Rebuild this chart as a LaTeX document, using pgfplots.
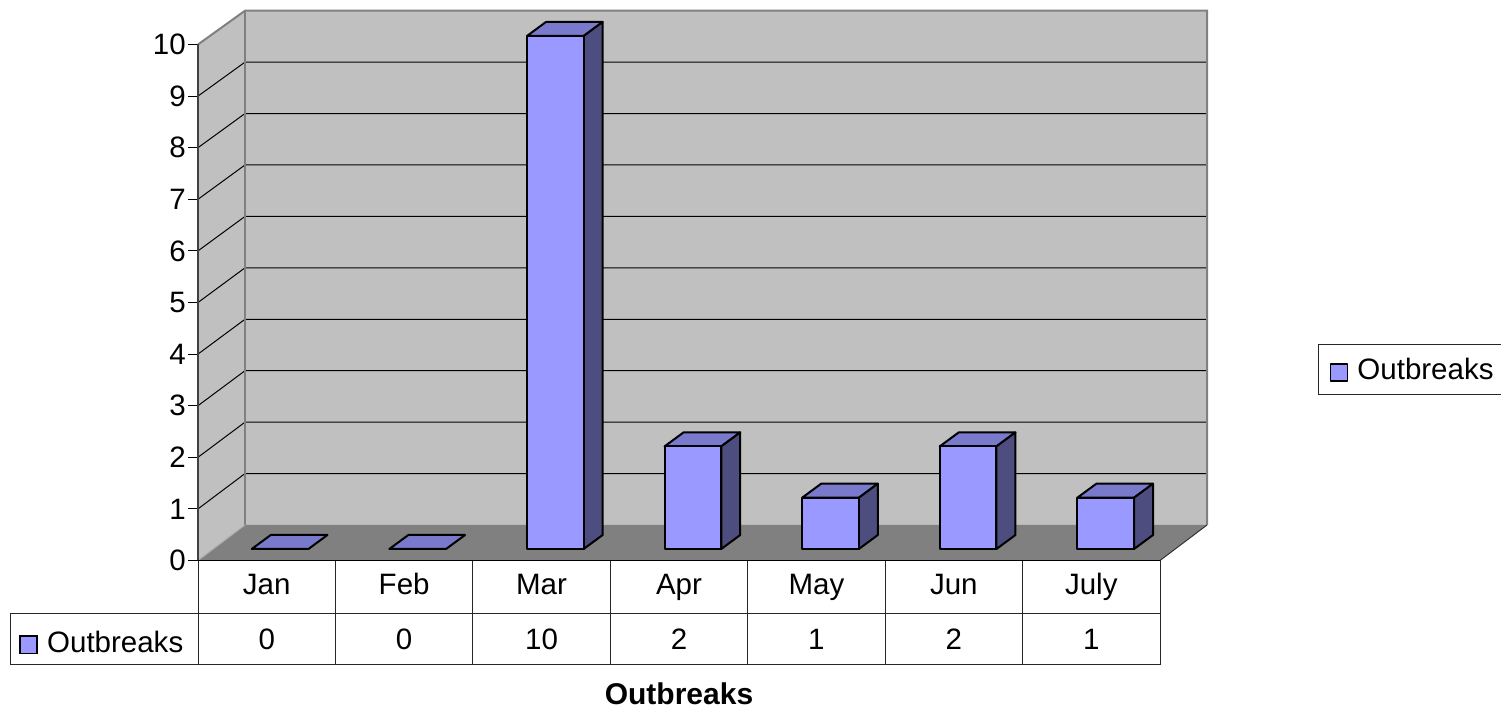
\documentclass[border=0pt]{standalone}
\usepackage{fontspec}
\setmainfont{Liberation Sans}
\usepackage{pgfplots}
\pgfplotsset{compat=1.18}
\definecolor{wall}{HTML}{C0C0C0}
\definecolor{floorc}{HTML}{808080}
\definecolor{barf}{HTML}{9999FF}
\definecolor{bart}{HTML}{7A7ACC}
\definecolor{bars}{HTML}{4D4D80}
\newcommand{\fs}{\fontsize{29.5}{31}\selectfont}
\begin{document}
\begin{tikzpicture}
\path[use as bounding box] (0,0) rectangle (1501pt,709pt);
% structure axis: walls, floor, ticks, data table
\begin{axis}[
  at={(198pt,148.5pt)}, anchor=south west,
  scale only axis, width=962pt, height=516pt,
  xmin=0, xmax=7, ymin=0, ymax=10, clip=false,
  axis line style={draw=none},
  xtick={0.5,1.5,2.5,3.5,4.5,5.5,6.5},
  xticklabels={Jan,Feb,Mar,Apr,May,Jun,July},
  ytick={0,1,2,3,4,5,6,7,8,9,10},
  xtick pos=bottom, ytick pos=left,
  tick align=outside, major tick length=10pt,
  x tick style={draw=none},
  y tick style={black,line width=1pt},
  /pgf/number format/assume math mode=true,
  tick label style={font=\fs},
  yticklabel style={inner sep=2pt},
  xticklabel style={anchor=base, yshift=-24.5pt},
]
\addplot[fill=wall,draw=none] coordinates {(0,0)(0.342,0.688)(0.342,10.655)(0,10)} --cycle;
\addplot[fill=wall,draw=none] coordinates {(0.342,0.688)(7.342,0.688)(7.342,10.655)(0.342,10.655)} --cycle;
\addplot[fill=floorc,draw=none] coordinates {(0,0)(7,0)(7.342,0.688)(0.342,0.688)} --cycle;
% grid lines
\addplot[black,line width=1pt] coordinates {(0,1)(0.342,1.685)(7.342,1.685)};
\addplot[black,line width=1pt] coordinates {(0,2)(0.342,2.681)(7.342,2.681)};
\addplot[black,line width=1pt] coordinates {(0,3)(0.342,3.678)(7.342,3.678)};
\addplot[black,line width=1pt] coordinates {(0,4)(0.342,4.675)(7.342,4.675)};
\addplot[black,line width=1pt] coordinates {(0,5)(0.342,5.672)(7.342,5.672)};
\addplot[black,line width=1pt] coordinates {(0,6)(0.342,6.668)(7.342,6.668)};
\addplot[black,line width=1pt] coordinates {(0,7)(0.342,7.665)(7.342,7.665)};
\addplot[black,line width=1pt] coordinates {(0,8)(0.342,8.662)(7.342,8.662)};
\addplot[black,line width=1pt] coordinates {(0,9)(0.342,9.658)(7.342,9.658)};
% wall edges
\addplot[floorc,line width=2pt] coordinates {(0,10)(0.342,10.655)(7.342,10.655)(7.342,0.688)};
\addplot[floorc,line width=2pt] coordinates {(0.342,10.655)(0.342,0.688)};
\addplot[wall!70!floorc,line width=1pt] coordinates {(0,0)(0.342,0.688)};
\addplot[black!75,line width=1.5pt] coordinates {(0,0)(0,10)};
\addplot[black!80,line width=1pt] coordinates {(7,0)(7.342,0.688)};
% data table lines
\addplot[black!85,line width=1pt] coordinates {(0,0)(7,0)(7,-2.012)(-1.362,-2.012)(-1.362,-1.031)(7,-1.031)};
\addplot[black!85,line width=1pt] coordinates {(0,0)(0,-2.012)};
\addplot[black!85,line width=1pt] coordinates {(1,0)(1,-2.012)};
\addplot[black!85,line width=1pt] coordinates {(2,0)(2,-2.012)};
\addplot[black!85,line width=1pt] coordinates {(3,0)(3,-2.012)};
\addplot[black!85,line width=1pt] coordinates {(4,0)(4,-2.012)};
\addplot[black!85,line width=1pt] coordinates {(5,0)(5,-2.012)};
\addplot[black!85,line width=1pt] coordinates {(6,0)(6,-2.012)};
\addplot[black,line width=1pt] coordinates {(0,0)(7,0)};
\addplot[fill=barf,draw=black,line width=1.5pt] coordinates {(-1.295,-1.463)(-1.171,-1.463)(-1.171,-1.799)(-1.295,-1.799)} --cycle;
\node[anchor=base west,inner sep=0pt,font=\fs] at (axis cs:-1.099,-1.783) {Outbreaks};
\node[anchor=base,inner sep=0pt,font=\fs] at (axis cs:0.5,-1.734) {0};
\node[anchor=base,inner sep=0pt,font=\fs] at (axis cs:1.5,-1.734) {0};
\node[anchor=base,inner sep=0pt,font=\fs] at (axis cs:2.5,-1.734) {10};
\node[anchor=base,inner sep=0pt,font=\fs] at (axis cs:3.5,-1.734) {2};
\node[anchor=base,inner sep=0pt,font=\fs] at (axis cs:4.5,-1.734) {1};
\node[anchor=base,inner sep=0pt,font=\fs] at (axis cs:5.5,-1.734) {2};
\node[anchor=base,inner sep=0pt,font=\fs] at (axis cs:6.5,-1.734) {1};
\node[anchor=base,inner sep=0pt,font=\fontsize{30}{32}\selectfont\bfseries] at (axis cs:3.5,-2.80) {Outbreaks};
\end{axis}
% bar axis: x = category index, y = value, in the bars' own depth plane
\begin{axis}[
  at={(280.1pt,160pt)}, anchor=south west,
  scale only axis, width=825.6pt, height=513pt,
  xmin=0, xmax=6, ymin=0, ymax=10, clip=false,
  hide axis,
  legend style={at={(1.2571,0.3496)},anchor=west,draw=black!85,line width=1pt,
    font=\fs,inner xsep=8pt,inner ysep=10.5pt,
    nodes={inner sep=3pt}},
  legend image code/.code={
    \path (0pt,0pt) (26pt,0pt);
    \draw[fill=barf,draw=black,line width=1.5pt] (3pt,-11.5pt) rectangle (20pt,5.5pt);},
]
\pgfplotsset{every axis plot/.append style={line join=round}}
% top faces
\addplot[forget plot,fill=bart,draw=black,line width=2pt] coordinates {(-0.206,0)(0.206,0)(0.344,0.273)(-0.068,0.273)} --cycle;
\addplot[forget plot,fill=bart,draw=black,line width=2pt] coordinates {(0.794,0)(1.206,0)(1.344,0.273)(0.932,0.273)} --cycle;
\addplot[forget plot,fill=bart,draw=black,line width=2pt] coordinates {(1.794,10)(2.206,10)(2.344,10.273)(1.932,10.273)} --cycle;
\addplot[forget plot,fill=bart,draw=black,line width=2pt] coordinates {(2.794,2)(3.206,2)(3.344,2.273)(2.932,2.273)} --cycle;
\addplot[forget plot,fill=bart,draw=black,line width=2pt] coordinates {(3.794,1)(4.206,1)(4.344,1.273)(3.932,1.273)} --cycle;
\addplot[forget plot,fill=bart,draw=black,line width=2pt] coordinates {(4.794,2)(5.206,2)(5.344,2.273)(4.932,2.273)} --cycle;
\addplot[forget plot,fill=bart,draw=black,line width=2pt] coordinates {(5.794,1)(6.206,1)(6.344,1.273)(5.932,1.273)} --cycle;
% side faces
\addplot[forget plot,fill=bars,draw=black,line width=2pt] coordinates {(2.206,0)(2.344,0.273)(2.344,10.273)(2.206,10)} --cycle;
\addplot[forget plot,fill=bars,draw=black,line width=2pt] coordinates {(3.206,0)(3.344,0.273)(3.344,2.273)(3.206,2)} --cycle;
\addplot[forget plot,fill=bars,draw=black,line width=2pt] coordinates {(4.206,0)(4.344,0.273)(4.344,1.273)(4.206,1)} --cycle;
\addplot[forget plot,fill=bars,draw=black,line width=2pt] coordinates {(5.206,0)(5.344,0.273)(5.344,2.273)(5.206,2)} --cycle;
\addplot[forget plot,fill=bars,draw=black,line width=2pt] coordinates {(6.206,0)(6.344,0.273)(6.344,1.273)(6.206,1)} --cycle;
% front faces: the values
\addplot[ybar,bar width=56.7pt,fill=barf,draw=black,line width=2pt] coordinates {(2,10)(3,2)(4,1)(5,2)(6,1)};
\addlegendentry{Outbreaks}
\end{axis}
\end{tikzpicture}
\end{document}
